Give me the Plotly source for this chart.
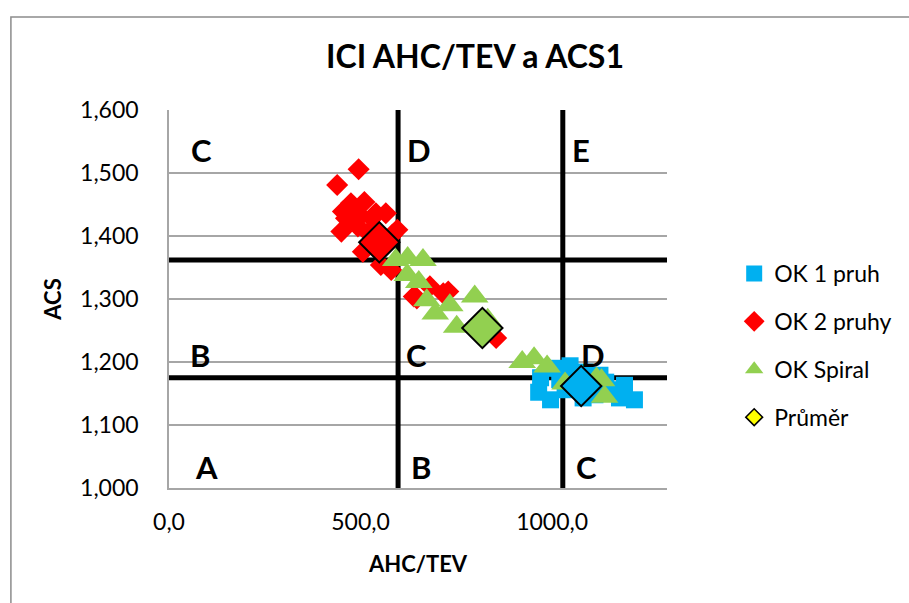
import plotly.graph_objects as go

# --- data -------------------------------------------------------------
ok1_x = [965, 970, 1008, 1047, 1086, 1125, 1034, 1081, 1112, 1150, 1176, 1215, 996, 1189,
         1020, 1060, 1100, 1140]
ok1_y = [1.152, 1.175, 1.190, 1.194, 1.184, 1.179, 1.156, 1.143, 1.148, 1.156, 1.143, 1.140,
         1.140, 1.163, 1.172, 1.170, 1.162, 1.168]

ok2_x = [495, 439, 475, 510, 454, 484, 450, 493, 540, 566, 596, 506, 553, 580, 530, 470,
         583, 647, 681, 639, 716, 729, 854, 462, 520, 500]
ok2_y = [1.506, 1.481, 1.452, 1.454, 1.439, 1.441, 1.407, 1.415, 1.436, 1.436, 1.410, 1.375,
         1.354, 1.346, 1.428, 1.425, 1.402, 1.301, 1.320, 1.304, 1.309, 1.312, 1.238,
         1.428, 1.405, 1.432]

spiral_x = [592, 623, 663, 622, 652, 673, 695, 733, 751, 798, 832, 922, 953, 987, 1034,
            1116, 1129, 1137]
spiral_y = [1.362, 1.365, 1.362, 1.338, 1.327, 1.298, 1.277, 1.290, 1.256, 1.304, 1.267,
            1.200, 1.206, 1.193, 1.166, 1.174, 1.171, 1.145]

avg_x = [549, 818, 1076]
avg_y = [1.390, 1.254, 1.162]

# zone boundaries
x_limits = [598, 1028]
y_limits = [1.362, 1.175]

# zone letters
zone_text = ["C", "D", "E", "B", "C", "D", "A", "B", "C"]
zone_x = [85, 653, 1076, 80, 647, 1107, 98, 658, 1089]
zone_y = [1.537, 1.537, 1.537, 1.211, 1.211, 1.211, 1.033, 1.033, 1.033]

X_RANGE = [0, 1300]
Y_RANGE = [1.0, 1.6]

# --- colours / fonts ---------------------------------------------------
BLUE = "#00b0f0"
RED = "#ff0000"
GREEN = "#92d050"
YELLOW = "#ffff00"
FONT = "Lato"

fig = go.Figure()

# thick boundary lines (drawn first so markers sit on top)
for xv in x_limits:
    fig.add_trace(go.Scatter(x=[xv, xv], y=Y_RANGE, mode="lines",
                             line=dict(color="black", width=5),
                             showlegend=False, hoverinfo="skip"))
for yv in y_limits:
    fig.add_trace(go.Scatter(x=X_RANGE, y=[yv, yv], mode="lines",
                             line=dict(color="black", width=5),
                             showlegend=False, hoverinfo="skip"))

fig.add_trace(go.Scatter(x=ok1_x, y=ok1_y, mode="markers", name="OK 1 pruh",
                         marker=dict(symbol="square", size=17, color=BLUE),
                         legendgroup="a"))
fig.add_trace(go.Scatter(x=ok2_x, y=ok2_y, mode="markers", name="OK 2 pruhy",
                         marker=dict(symbol="diamond", size=17, color=RED),
                         legendgroup="b"))
fig.add_trace(go.Scatter(x=spiral_x, y=spiral_y, mode="markers", name="OK Spiral",
                         marker=dict(symbol="triangle-up", size=24, color=GREEN),
                         legendgroup="c"))
# group averages, each in its group's colour
fig.add_trace(go.Scatter(x=avg_x, y=avg_y, mode="markers", name="Průměr",
                         marker=dict(symbol="diamond", size=31, color=[RED, GREEN, BLUE],
                                     line=dict(color="black", width=2)),
                         showlegend=False, legendgroup="d"))
# legend entry for the averages
fig.add_trace(go.Scatter(x=[None], y=[None], mode="markers", name="Průměr",
                         marker=dict(symbol="diamond", size=13, color=YELLOW,
                                     line=dict(color="black", width=1.5)),
                         legendgroup="d"))

for t, xv, yv in zip(zone_text, zone_x, zone_y):
    fig.add_annotation(x=xv, y=yv, xref="x", yref="y", text=t, showarrow=False,
                       font=dict(family=FONT, size=31, color="black", weight="bold"))

# outer chart border
fig.add_shape(type="rect", xref="paper", yref="paper",
              x0=(9 - 169) / 504, x1=2.0, y0=-1.0, y1=(488 - 17) / 378,
              line=dict(color="#8c8c8c", width=1.5), fillcolor="rgba(0,0,0,0)")

fig.update_layout(
    width=909, height=603,
    margin=dict(l=169, r=236, t=110, b=115),
    paper_bgcolor="white", plot_bgcolor="white",
    separators=",.",
    font=dict(family=FONT, color="black", size=23),
    title=dict(text="<b>ICI AHC/TEV a ACS1</b>", x=(475) / 909, xanchor="center",
               y=1 - 57 / 603, yanchor="middle",
               font=dict(family=FONT, size=32, color="black")),
    legend=dict(x=(741 - 169) / 504, y=(488 - 252) / 378, xanchor="left", yanchor="top",
                font=dict(family=FONT, size=23, color="black"),
                tracegroupgap=15, traceorder="grouped",
                bgcolor="rgba(0,0,0,0)"),
    showlegend=True,
)

fig.update_xaxes(range=X_RANGE, dtick=500, tick0=0, tickformat=".1f",
                 showgrid=False, zeroline=False, showline=True,
                 linecolor="#a6a6a6", linewidth=1.5, ticks="",
                 ticklabelstandoff=13,
                 tickfont=dict(family=FONT, size=23, color="black"),
                 title=dict(text="<b>AHC/TEV</b>", standoff=22,
                            font=dict(family=FONT, size=22, color="black")))
fig.update_yaxes(range=Y_RANGE, dtick=0.1, tick0=1.0, tickformat=".3f",
                 showgrid=True, gridcolor="#a6a6a6", gridwidth=1.5,
                 zeroline=False, showline=True, linecolor="#a6a6a6", linewidth=1.5,
                 ticks="", ticklabelstandoff=24,
                 tickfont=dict(family=FONT, size=23, color="black"),
                 title=dict(text="<b>ACS</b>", standoff=12,
                            font=dict(family=FONT, size=22, color="black")))

fig.write_html("out.html")
